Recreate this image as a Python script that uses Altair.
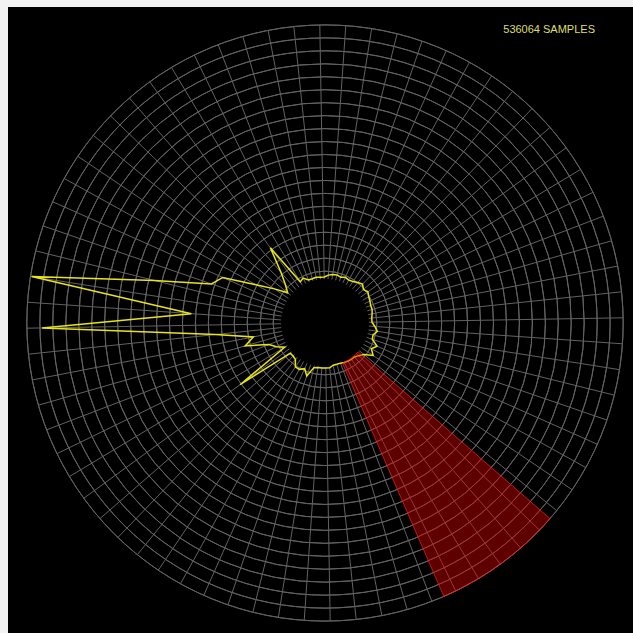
import math
import altair as alt
import pandas as pd

# Receiver coverage: furthest range seen in each 5-degree bearing bin (bin 0 = north)
SAMPLES = 536064
BIN_WIDTH = 5
ROTATION = -1  # display rotation of the whole scope, degrees
MAX_RANGES = [
    46, 48, 49, 49.5, 48.5, 50, 49, 50, 52, 54,
    51, 53, 51, 50, 49, 49, 48, 47, 47, 50,
    53, 49.5, 50, 57, 53, 58, 50, 47, 45, 45,
    44.5, 44, 43, 43, 43, 45, 45, 45, 45, 46,
    56, 50, 53, 53, 47, 46, 46, 105, 47, 54,
    60, 83, 73, 110, 283, 134, 297, 176, 120, 112,
    79, 61, 48, 55, 67, 93, 48, 50, 46, 46,
    46.5, 46,
]
BEARINGS = [k * BIN_WIDTH for k in range(len(MAX_RANGES))]

# Scope grid
RING_STEP = 12.96
RINGS = [RING_STEP * k for k in range(4, 24)]
INNER = 44
OUTER = RINGS[-1]
SPOKES = BEARINGS

# Highlighted sector (bearings, degrees)
SECTOR_START, SECTOR_END = 131, 156.5

GRID = "#626262"
TRACE = "#e8e41c"
SECTOR = "#e00000"

W, H = 625, 626
CX, CY = 317, 316  # scope centre inside the plot area

XS = alt.Scale(domain=[-CX, W - CX], nice=False, zero=False)
YS = alt.Scale(domain=[-(H - CY), CY], nice=False, zero=False)
TS = alt.Scale(domain=[0, 360], range=[0, 2 * math.pi])
RS = alt.Scale(type="linear", domain=[0, OUTER], range=[0, OUTER], zero=True)

rad = f"(datum.b + {ROTATION}) * PI / 180"

rings = (
    alt.Chart(pd.DataFrame({"r": RINGS}))
    .transform_calculate(t0="0", t1="360")
    .mark_arc(fillOpacity=0, stroke=GRID, strokeWidth=1)
    .encode(
        x=alt.X(datum=0, scale=XS, axis=None),
        y=alt.Y(datum=0, scale=YS, axis=None),
        theta=alt.Theta("t0:Q", scale=TS, stack=False),
        theta2="t1:Q",
        radius=alt.Radius("r:Q", scale=RS),
        radius2="r:Q",
    )
)

spokes = (
    alt.Chart(pd.DataFrame({"b": SPOKES}))
    .transform_calculate(
        x1=f"{INNER} * sin({rad})",
        y1=f"{INNER} * cos({rad})",
        x2=f"{OUTER} * sin({rad})",
        y2=f"{OUTER} * cos({rad})",
    )
    .mark_rule(stroke=GRID, strokeWidth=1)
    .encode(
        x=alt.X("x1:Q", scale=XS, axis=None),
        y=alt.Y("y1:Q", scale=YS, axis=None),
        x2="x2:Q",
        y2="y2:Q",
    )
)

trace = (
    alt.Chart(pd.DataFrame({"b": BEARINGS, "range": MAX_RANGES, "i": range(len(BEARINGS))}))
    .transform_calculate(
        px=f"datum.range * sin({rad})",
        py=f"datum.range * cos({rad})",
    )
    .mark_line(color=TRACE, strokeWidth=1.5, interpolate="linear-closed")
    .encode(
        x=alt.X("px:Q", scale=XS, axis=None),
        y=alt.Y("py:Q", scale=YS, axis=None),
        order="i:Q",
    )
)

sector = (
    alt.Chart(pd.DataFrame({"s": [SECTOR_START], "e": [SECTOR_END], "r0": [INNER], "r1": [OUTER]}))
    .mark_arc(fill=SECTOR, fillOpacity=0.42, stroke="#ff2020", strokeWidth=1, strokeOpacity=0.7)
    .encode(
        x=alt.X(datum=0, scale=XS, axis=None),
        y=alt.Y(datum=0, scale=YS, axis=None),
        theta=alt.Theta("s:Q", scale=TS, stack=False),
        theta2="e:Q",
        radius=alt.Radius("r0:Q", scale=RS),
        radius2="r1:Q",
    )
)

label = (
    alt.Chart(pd.DataFrame({"t": [f"{SAMPLES} SAMPLES"]}))
    .mark_text(
        align="right", baseline="alphabetic", font="Liberation Sans",
        fontSize=11, color="#dede6e",
    )
    .encode(x=alt.value(587), y=alt.value(26), text="t:N")
)

chart = (
    alt.layer(rings, spokes, trace, sector, label)
    .properties(
        width=W,
        height=H,
        padding={"left": 8, "top": 7, "right": 0, "bottom": 0},
        autosize=alt.AutoSizeParams(type="none"),
        background="#f2f2f2",
    )
    .configure_view(fill="#000000", stroke=None)
)

chart.save("out.html", embed_options={"renderer": "svg", "actions": False})
